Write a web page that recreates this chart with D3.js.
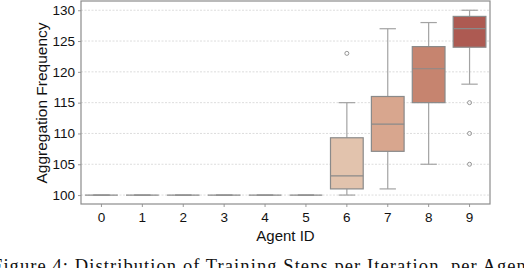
<!DOCTYPE html>
<html>
<head>
  <style>
    body {
        margin: 0;
        background: #fff;
    }
    svg {
        display: block;
        font-family: "Liberation Sans", Arial, sans-serif;
    }
    .caption {
        font-family: "Liberation Serif", "Times New Roman", serif;
    }
  </style>
</head>
<body>
<script src="https://d3js.org/d3.v7.min.js"></script>
<div id="chart"></div>
<script>
    // Box statistics per agent
    const agents = ["0", "1", "2", "3", "4", "5", "6", "7", "8", "9"];
    const whiskerLow = [100, 100, 100, 100, 100, 100, 100, 101.0, 105.0, 118.0];
    const q1 = [100, 100, 100, 100, 100, 100, 101.0, 107.1, 115.0, 124.0];
    const medians = [100, 100, 100, 100, 100, 100, 103.1, 111.5, 120.5, 127.0];
    const q3 = [100, 100, 100, 100, 100, 100, 109.3, 116.0, 124.1, 129.0];
    const whiskerHigh = [100, 100, 100, 100, 100, 100, 115.0, 127.0, 128.0, 130.0];
    const outliers = [[], [], [], [], [], [], [123], [], [], [115, 110, 105]];
    const boxColors = ["#f3e3d8", "#f1ddcf", "#eed6c6", "#ebd0bd", "#e8c9b4", "#e5c3ab",
                       "#e2c3ad", "#d8a68e", "#c6846f", "#ad5a52"];
    const yTicks = [100, 105, 110, 115, 120, 125, 130];

    const W = 524, H = 268;
    const frame = { left: 81, right: 490, top: 1, bottom: 204 };

    const svg = d3.select("#chart").append("svg")
      .attr("width", W)
      .attr("height", H);

    // Scales: band per agent, linear value axis
    const x = d3.scaleBand()
      .domain(agents)
      .range([frame.left, frame.right])
      .paddingInner(0)
      .paddingOuter(0);

    const y = d3.scaleLinear()
      .domain([98.55, 131.5])
      .range([frame.bottom, frame.top]);

    const boxW = x.bandwidth() * 0.8;
    const capW = boxW * 0.5;
    const edge = "#8a8a8a";

    // Dotted grid lines
    svg.append("g")
      .selectAll("line")
      .data(yTicks)
      .join("line")
      .attr("x1", frame.left)
      .attr("x2", frame.right)
      .attr("y1", d => y(d))
      .attr("y2", d => y(d))
      .attr("stroke", "#d4d4d4")
      .attr("stroke-width", 0.8)
      .attr("stroke-dasharray", "2,1.5");

    // Axes
    const yAxis = svg.append("g")
      .attr("transform", `translate(${frame.left},0)`)
      .call(d3.axisLeft(y).tickValues(yTicks).tickSize(3).tickPadding(3));

    const xAxis = svg.append("g")
      .attr("transform", `translate(0,${frame.bottom})`)
      .call(d3.axisBottom(x).tickSize(3).tickPadding(5));

    [yAxis, xAxis].forEach(g => {
      g.select(".domain").remove();
      g.selectAll(".tick line").attr("stroke", "#999");
      g.selectAll(".tick text")
        .attr("fill", "#111")
        .style("font-size", "13.5px")
        .style("font-family", "'Liberation Sans', Arial, sans-serif");
    });

    // One group per agent
    const boxes = svg.append("g")
      .selectAll("g")
      .data(agents.map((a, i) => ({ a, i })))
      .join("g")
      .attr("transform", d => `translate(${x(d.a) + x.bandwidth() / 2},0)`);

    // Whiskers
    boxes.append("line")
      .attr("y1", d => y(whiskerLow[d.i]))
      .attr("y2", d => y(q1[d.i]))
      .attr("stroke", "#a3a3a3").attr("stroke-width", 1.2);
    boxes.append("line")
      .attr("y1", d => y(q3[d.i]))
      .attr("y2", d => y(whiskerHigh[d.i]))
      .attr("stroke", "#a3a3a3").attr("stroke-width", 1.2);

    // Caps
    boxes.append("line")
      .attr("x1", -capW / 2).attr("x2", capW / 2)
      .attr("y1", d => y(whiskerLow[d.i])).attr("y2", d => y(whiskerLow[d.i]))
      .attr("stroke", "#a3a3a3").attr("stroke-width", 1.2);
    boxes.append("line")
      .attr("x1", -capW / 2).attr("x2", capW / 2)
      .attr("y1", d => y(whiskerHigh[d.i])).attr("y2", d => y(whiskerHigh[d.i]))
      .attr("stroke", "#a3a3a3").attr("stroke-width", 1.2);

    // Box body
    boxes.append("rect")
      .attr("x", -boxW / 2)
      .attr("width", boxW)
      .attr("y", d => y(q3[d.i]))
      .attr("height", d => y(q1[d.i]) - y(q3[d.i]))
      .attr("fill", d => boxColors[d.i])
      .attr("stroke", edge)
      .attr("stroke-width", 1.2);

    // Median
    boxes.append("line")
      .attr("x1", -boxW / 2).attr("x2", boxW / 2)
      .attr("y1", d => y(medians[d.i])).attr("y2", d => y(medians[d.i]))
      .attr("stroke", edge).attr("stroke-width", 1.2);

    // Outliers
    boxes.selectAll("circle")
      .data(d => outliers[d.i])
      .join("circle")
      .attr("cx", 0)
      .attr("cy", v => y(v))
      .attr("r", 2)
      .attr("fill", "none")
      .attr("stroke", "#8a8a8a")
      .attr("stroke-width", 0.9);

    // Frame
    svg.append("rect")
      .attr("x", frame.left)
      .attr("y", frame.top)
      .attr("width", frame.right - frame.left)
      .attr("height", frame.bottom - frame.top)
      .attr("fill", "none")
      .attr("stroke", "#8c8c8c")
      .attr("stroke-width", 1.2);

    // Axis titles
    svg.append("text")
      .attr("x", (frame.left + frame.right) / 2)
      .attr("y", 240.5)
      .attr("text-anchor", "middle")
      .style("font-size", "15px")
      .attr("fill", "#111")
      .text("Agent ID");

    svg.append("text")
      .attr("transform", "rotate(-90)")
      .attr("x", -103)
      .attr("y", 47)
      .attr("text-anchor", "middle")
      .style("font-size", "15.5px")
      .attr("fill", "#111")
      .text("Aggregation Frequency");

    // Figure caption, cut off by the page edges as in the source scan
    svg.append("text")
      .attr("class", "caption")
      .attr("x", -8)
      .attr("y", 272)
      .attr("textLength", 540)
      .attr("lengthAdjust", "spacing")
      .style("font-size", "18.5px")
      .attr("fill", "#111")
      .text("Figure 4: Distribution of Training Steps per Iteration, per Agent");
</script>
</body>
</html>
